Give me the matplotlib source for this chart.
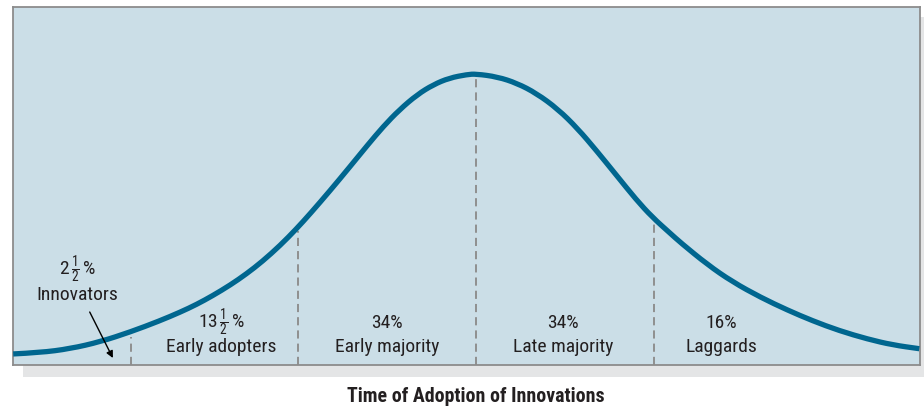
import matplotlib
matplotlib.use("Agg")
import matplotlib.pyplot as plt
from matplotlib.patches import Rectangle, PathPatch
from matplotlib.path import Path

plt.rcParams['font.family'] = ['Roboto Condensed', 'DejaVu Sans']
plt.rcParams['mathtext.fontset'] = 'custom'
plt.rcParams['mathtext.rm'] = 'Roboto Condensed'
plt.rcParams['mathtext.it'] = 'Roboto Condensed'

# adoption curve: time in std. deviations from the mean,
# adoption as % of the peak
time_sd = [-2.60, -2.45, -2.28, -2.11, -1.94, -1.78, -1.66, -1.57, -1.48, -1.38,
           -1.29, -1.20, -1.10, -1.01, -0.93, -0.82, -0.71, -0.61, -0.52, -0.43,
           -0.33, -0.24, -0.15, -0.05, 0.00, 0.12, 0.23, 0.34, 0.46, 0.57,
           0.68, 0.79, 0.90, 0.99, 1.09, 1.15, 1.30, 1.44, 1.60, 1.75,
           1.89, 2.04, 2.20, 2.34, 2.49]
adoption = [3.8, 4.25, 5.6, 8.0, 11.4, 15.1, 18.2, 20.8, 23.8, 27.5,
            31.3, 35.6, 41.1, 46.7, 52.1, 59.9, 68.0, 75.5, 82.0, 87.7,
            92.9, 96.3, 98.6, 99.8, 100.0, 99.0, 96.8, 93.3, 87.9, 81.3,
            73.4, 65.1, 56.8, 50.8, 45.3, 42.0, 34.5, 28.6, 23.2, 18.85,
            15.2, 11.8, 8.9, 6.9, 5.6]

# category boundaries and where the curve sits there
bounds = [-1.94, -1.0, 0.0, 1.0]
bound_heights = [9.5, 46.0, 99.0, 49.5]

shares = [r"$13\,\frac{1}{2}\,\%$", "34%", "34%", "16%"]
groups = ["Early adopters", "Early majority", "Late majority", "Laggards"]
label_x = [-1.43, -0.50, 0.49, 1.38]

BG = "#cbdee7"
CURVE = "#00668f"
INK = "#231f20"

W, H = 924, 407
fig = plt.figure(figsize=(W / 100, H / 100), dpi=100)

# drop shadow behind the panel
fig.patches.append(Rectangle((23 / W, (H - 377) / H), 901 / W, 360 / H,
                             transform=fig.transFigure, facecolor="#e4e5e6",
                             edgecolor="none", zorder=-1))

ax = fig.add_axes([13 / W, (H - 365) / H, 907 / W, 358 / H])
ax.set_facecolor(BG)
ax.set_xlim(-2.601, 2.494)
ax.set_ylim(0, 123.0)
ax.set_xticks([])
ax.set_yticks([])
for s in ax.spines.values():
    s.set_color("#8c8c8c")
    s.set_linewidth(1.3)

for x, h in zip(bounds, bound_heights):
    ax.plot([x, x], [0, h], color="#8f8f8f", lw=1.4, ls=(0, (4.2, 2.6)), zorder=2)

# smooth the read points with quadratic segments through their midpoints
pts = list(zip(time_sd, adoption))
verts = [pts[0]]
codes = [Path.MOVETO]
for i in range(1, len(pts) - 1):
    mid = ((pts[i][0] + pts[i + 1][0]) / 2, (pts[i][1] + pts[i + 1][1]) / 2)
    verts += [pts[i], mid]
    codes += [Path.CURVE3, Path.CURVE3]
verts.append(pts[-1])
codes.append(Path.LINETO)
ax.add_patch(PathPatch(Path(verts, codes), facecolor="none", edgecolor=CURVE,
                       lw=3.8, capstyle="butt", zorder=3))

for x, pct, name in zip(label_x, shares, groups):
    ax.text(x, 14.4, pct, ha="center", va="center", fontsize=14, color=INK)
    ax.text(x, 6.2, name, ha="center", va="center", fontsize=14, color=INK)

ax.text(-2.24, 32.6, r"$2\,\frac{1}{2}\,\%$", ha="center", va="center", fontsize=14, color=INK)
ax.text(-2.24, 24.1, "Innovators", ha="center", va="center", fontsize=14, color=INK)
ax.annotate("", xy=(-2.04, 2.4), xytext=(-2.17, 18.2),
            arrowprops=dict(arrowstyle="-|>", color="black", lw=1.0,
                            mutation_scale=10, shrinkA=0, shrinkB=0))

fig.text(476 / W, (H - 396) / H, "Time of Adoption of Innovations",
         ha="center", va="center", fontsize=14.3, fontweight="bold", color=INK)

fig.savefig("out.png", dpi=100)
